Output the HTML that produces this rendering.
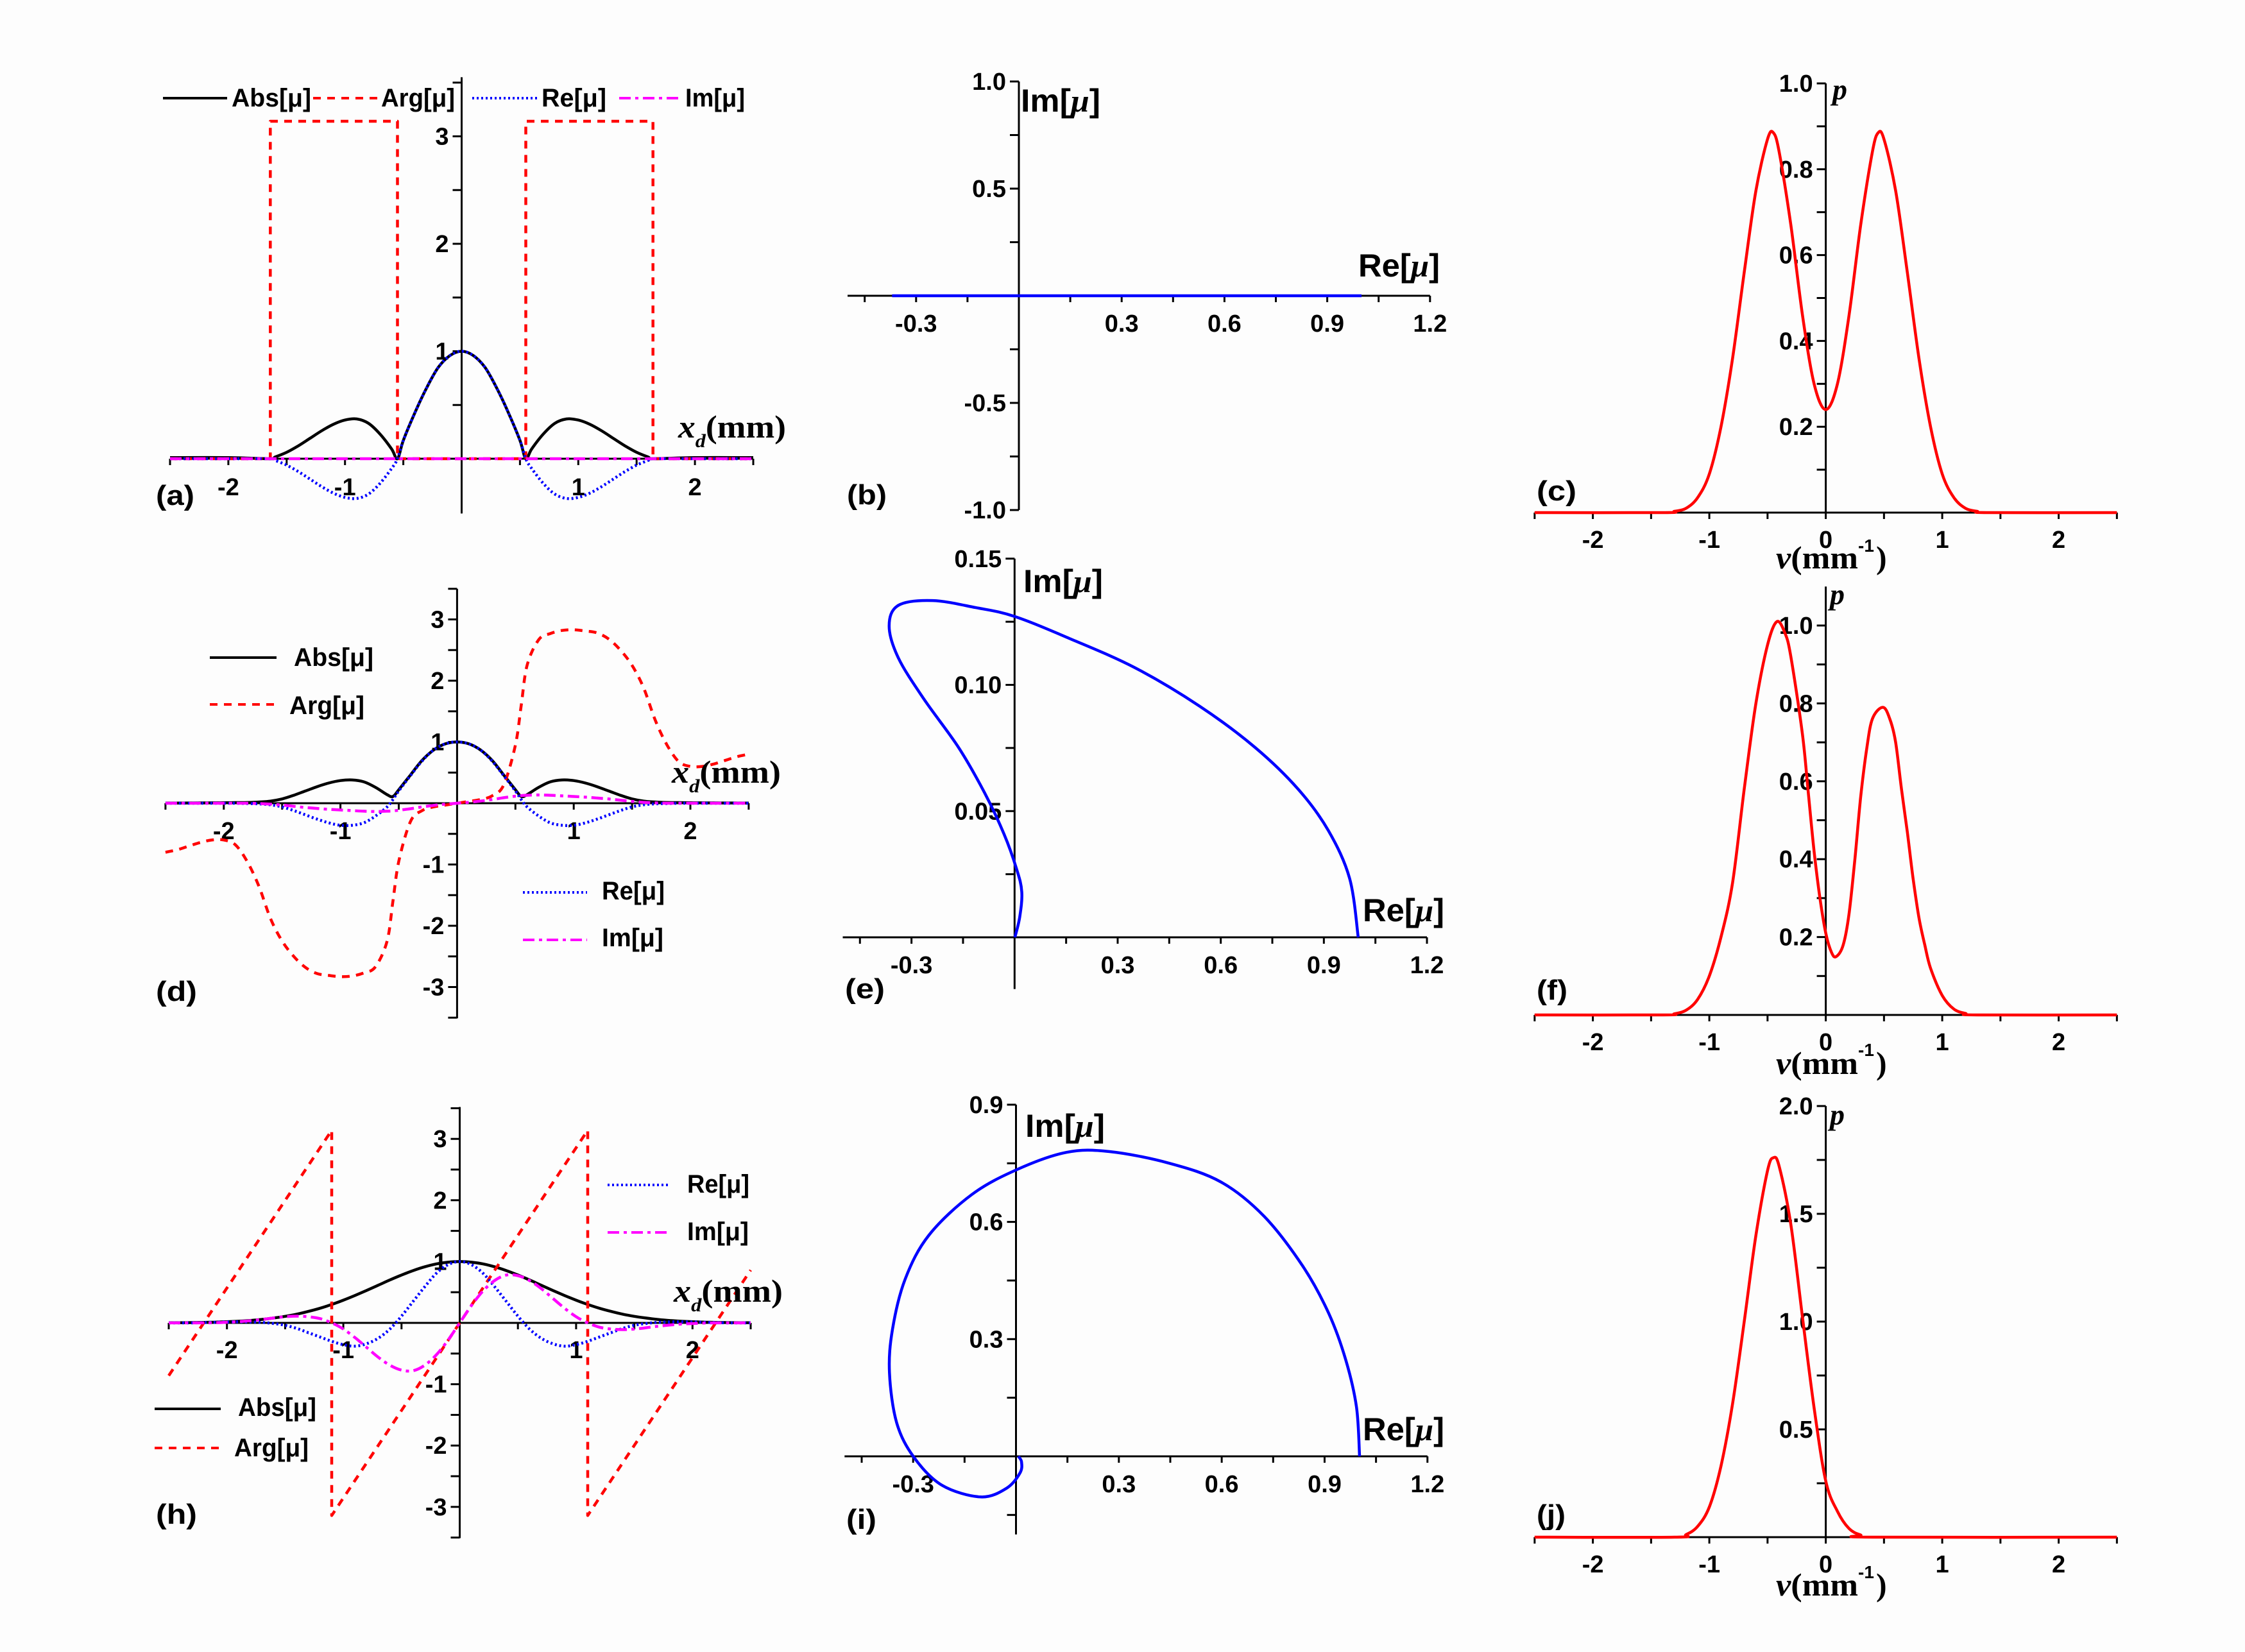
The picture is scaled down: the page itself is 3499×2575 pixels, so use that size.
<!DOCTYPE html>
<html><head><meta charset="utf-8"><title>Coherence panels</title>
<style>
html,body{margin:0;padding:0;background:#fdfdfd;overflow:hidden;}
svg{display:block;}
text{font-family:"Liberation Sans",sans-serif;font-weight:bold;fill:#000;}
.serif{font-family:"Liberation Serif",serif;}
</style></head>
<body>
<svg id="fig" xmlns="http://www.w3.org/2000/svg" width="3499" height="2575" viewBox="0 0 3499 2575">
<rect x="0" y="0" width="3499" height="2575" fill="#fdfdfd"/>
<g id="plots"></g>

<!-- panel letters -->
<text x="243" y="787" font-size="44" textLength="60" lengthAdjust="spacingAndGlyphs">(a)</text>
<text x="1320" y="786" font-size="44" textLength="62" lengthAdjust="spacingAndGlyphs">(b)</text>
<text x="2395" y="780" font-size="44" textLength="62" lengthAdjust="spacingAndGlyphs">(c)</text>
<text x="243" y="1560" font-size="44" textLength="64" lengthAdjust="spacingAndGlyphs">(d)</text>
<text x="1317" y="1556" font-size="44" textLength="62" lengthAdjust="spacingAndGlyphs">(e)</text>
<text x="2395" y="1558" font-size="44" textLength="48" lengthAdjust="spacingAndGlyphs">(f)</text>
<text x="243" y="2375" font-size="44" textLength="64" lengthAdjust="spacingAndGlyphs">(h)</text>
<text x="1319" y="2383" font-size="44" textLength="47" lengthAdjust="spacingAndGlyphs">(i)</text>
<text x="2395" y="2376" font-size="44" textLength="45" lengthAdjust="spacingAndGlyphs">(j)</text>

<!-- x_d axis titles -->
<text class="serif" x="1057" y="682" font-size="50" textLength="168" lengthAdjust="spacingAndGlyphs"><tspan font-style="italic">x</tspan><tspan font-size="30" font-style="italic" dy="15">d</tspan><tspan dy="-15">(mm)</tspan></text>
<text class="serif" x="1047" y="1220" font-size="50" textLength="170" lengthAdjust="spacingAndGlyphs"><tspan font-style="italic">x</tspan><tspan font-size="30" font-style="italic" dy="15">d</tspan><tspan dy="-15">(mm)</tspan></text>
<text class="serif" x="1050" y="2029" font-size="50" textLength="170" lengthAdjust="spacingAndGlyphs"><tspan font-style="italic">x</tspan><tspan font-size="30" font-style="italic" dy="15">d</tspan><tspan dy="-15">(mm)</tspan></text>

<!-- Im / Re titles -->
<text x="1591" y="174" font-size="50" textLength="124" lengthAdjust="spacingAndGlyphs">Im[<tspan class="serif" font-style="italic">μ</tspan>]</text>
<text x="2117" y="431" font-size="50" textLength="127" lengthAdjust="spacingAndGlyphs">Re[<tspan class="serif" font-style="italic">μ</tspan>]</text>
<text x="1595" y="923" font-size="50" textLength="124" lengthAdjust="spacingAndGlyphs">Im[<tspan class="serif" font-style="italic">μ</tspan>]</text>
<text x="2124" y="1436" font-size="50" textLength="127" lengthAdjust="spacingAndGlyphs">Re[<tspan class="serif" font-style="italic">μ</tspan>]</text>
<text x="1598" y="1772" font-size="50" textLength="124" lengthAdjust="spacingAndGlyphs">Im[<tspan class="serif" font-style="italic">μ</tspan>]</text>
<text x="2124" y="2245" font-size="50" textLength="127" lengthAdjust="spacingAndGlyphs">Re[<tspan class="serif" font-style="italic">μ</tspan>]</text>

<!-- p titles -->
<text class="serif" x="2856" y="155" font-size="46" font-style="italic">p</text>
<text class="serif" x="2852" y="942" font-size="46" font-style="italic">p</text>
<text class="serif" x="2852" y="1753" font-size="46" font-style="italic">p</text>

<!-- nu titles -->
<g>
<text class="serif" x="2768" y="886" font-size="50" textLength="128" lengthAdjust="spacingAndGlyphs"><tspan font-style="italic">ν</tspan>(mm</text>
<text x="2896" y="860" font-size="28">-1</text>
<text class="serif" x="2924" y="886" font-size="50">)</text></g>
<g>
<text class="serif" x="2768" y="1674" font-size="50" textLength="128" lengthAdjust="spacingAndGlyphs"><tspan font-style="italic">ν</tspan>(mm</text>
<text x="2896" y="1646" font-size="28">-1</text>
<text class="serif" x="2924" y="1674" font-size="50">)</text></g>
<g>
<text class="serif" x="2768" y="2487" font-size="50" textLength="128" lengthAdjust="spacingAndGlyphs"><tspan font-style="italic">ν</tspan>(mm</text>
<text x="2896" y="2460" font-size="28">-1</text>
<text class="serif" x="2924" y="2487" font-size="50">)</text></g>

<!-- legends -->
<g>
<line x1="254" y1="153" x2="354" y2="153" stroke="#000" stroke-width="4"/>
<text x="361" y="166" font-size="40" textLength="124" lengthAdjust="spacingAndGlyphs">Abs[μ]</text>
<line x1="488" y1="153" x2="592" y2="153" stroke="#f00" stroke-width="4" stroke-dasharray="12 10"/>
<text x="594" y="166" font-size="40" textLength="115" lengthAdjust="spacingAndGlyphs">Arg[μ]</text>
<line x1="736" y1="153" x2="840" y2="153" stroke="#00f" stroke-width="4" stroke-dasharray="3 4"/>
<text x="844" y="166" font-size="40" textLength="101" lengthAdjust="spacingAndGlyphs">Re[μ]</text>
<line x1="965" y1="153" x2="1064" y2="153" stroke="#f0f" stroke-width="4" stroke-dasharray="18 7 5 7"/>
<text x="1068" y="166" font-size="40" textLength="93" lengthAdjust="spacingAndGlyphs">Im[μ]</text>
</g>
<g>
<line x1="327" y1="1025" x2="431" y2="1025" stroke="#000" stroke-width="4"/>
<text x="458" y="1038" font-size="40" textLength="124" lengthAdjust="spacingAndGlyphs">Abs[μ]</text>
<line x1="327" y1="1098" x2="431" y2="1098" stroke="#f00" stroke-width="4" stroke-dasharray="12 10"/>
<text x="451" y="1113" font-size="40" textLength="117" lengthAdjust="spacingAndGlyphs">Arg[μ]</text>
<line x1="815" y1="1391" x2="915" y2="1391" stroke="#00f" stroke-width="4" stroke-dasharray="3 4"/>
<text x="938" y="1402" font-size="40" textLength="98" lengthAdjust="spacingAndGlyphs">Re[μ]</text>
<line x1="815" y1="1465" x2="915" y2="1465" stroke="#f0f" stroke-width="4" stroke-dasharray="18 7 5 7"/>
<text x="938" y="1475" font-size="40" textLength="96" lengthAdjust="spacingAndGlyphs">Im[μ]</text>
</g>
<g>
<line x1="947" y1="1847" x2="1045" y2="1847" stroke="#00f" stroke-width="4" stroke-dasharray="3 4"/>
<text x="1071" y="1859" font-size="40" textLength="97" lengthAdjust="spacingAndGlyphs">Re[μ]</text>
<line x1="947" y1="1921" x2="1045" y2="1921" stroke="#f0f" stroke-width="4" stroke-dasharray="18 7 5 7"/>
<text x="1071" y="1933" font-size="40" textLength="96" lengthAdjust="spacingAndGlyphs">Im[μ]</text>
<line x1="241" y1="2196" x2="344" y2="2196" stroke="#000" stroke-width="4"/>
<text x="371" y="2207" font-size="40" textLength="122" lengthAdjust="spacingAndGlyphs">Abs[μ]</text>
<line x1="241" y1="2257" x2="344" y2="2257" stroke="#f00" stroke-width="4" stroke-dasharray="12 10"/>
<text x="365" y="2270" font-size="40" textLength="116" lengthAdjust="spacingAndGlyphs">Arg[μ]</text>
</g>
</svg>
<script>
// ---------- data: panel (a) ----------
const aX   = [-2.5,-2.0,-1.64,-1.6,-1.5,-1.4,-1.3,-1.2,-1.1,-1.0,-0.9,-0.8,-0.7,-0.6,-0.55,-0.5,-0.4,-0.3,-0.2,-0.1,0,0.1,0.2,0.3,0.4,0.5,0.55,0.6,0.7,0.8,0.9,1.0,1.1,1.2,1.3,1.4,1.5,1.6,1.64,2.0,2.5];
const aAbs = [0.01,0.01,0,0.015,0.06,0.12,0.19,0.26,0.32,0.36,0.37,0.33,0.23,0.09,0,0.17,0.43,0.66,0.85,0.96,1,0.96,0.85,0.66,0.43,0.17,0,0.09,0.23,0.33,0.37,0.36,0.32,0.26,0.19,0.12,0.06,0.015,0,0.01,0.01];
const aRe  = [0,0,0,-0.015,-0.06,-0.12,-0.19,-0.26,-0.32,-0.36,-0.37,-0.33,-0.23,-0.09,0,0.17,0.43,0.66,0.85,0.96,1,0.96,0.85,0.66,0.43,0.17,0,-0.09,-0.23,-0.33,-0.37,-0.36,-0.32,-0.26,-0.19,-0.12,-0.06,-0.015,0,0,0];
const aImX = [-2.5,2.5];
const aIm  = [0,0];
const aArgX = [-2.5,-1.64,-1.64,-0.55,-0.55,0.55,0.55,1.64,1.64,2.5];
const aArg  = [0,0,3.14,3.14,0,0,3.14,3.14,0,0];
// ---------- data: panel (d) ----------
const dX   = [-2.5,-2.4,-2.3,-2.2,-2.1,-2.0,-1.9,-1.8,-1.7,-1.6,-1.5,-1.4,-1.3,-1.2,-1.1,-1.0,-0.9,-0.8,-0.7,-0.6,-0.55,-0.5,-0.4,-0.3,-0.2,-0.1,0,0.1,0.2,0.3,0.4,0.5,0.55,0.6,0.7,0.8,0.9,1.0,1.1,1.2,1.3,1.4,1.5,1.6,1.7,1.8,1.9,2.0,2.1,2.2,2.3,2.4,2.5];
const dAbs = [0.002,0.003,0.004,0.005,0.006,0.008,0.01,0.012,0.02,0.035,0.07,0.13,0.2,0.27,0.33,0.37,0.38,0.35,0.26,0.14,0.11,0.22,0.46,0.7,0.87,0.97,1.0,0.97,0.87,0.7,0.46,0.22,0.11,0.14,0.26,0.35,0.38,0.37,0.33,0.27,0.2,0.13,0.07,0.035,0.02,0.012,0.01,0.008,0.006,0.005,0.004,0.003,0.002];
const dRe  = [0,0,0,0,0,0,0,-0.005,-0.01,-0.025,-0.06,-0.12,-0.19,-0.26,-0.32,-0.36,-0.36,-0.32,-0.21,-0.06,0.06,0.2,0.45,0.69,0.87,0.97,1.0,0.97,0.87,0.69,0.45,0.2,0.06,-0.06,-0.21,-0.32,-0.36,-0.36,-0.32,-0.26,-0.19,-0.12,-0.06,-0.025,-0.01,-0.005,0,0,0,0,0,0,0];
const dIm  = [0,0,0,0,0,0,0,0,-0.005,-0.015,-0.03,-0.05,-0.07,-0.085,-0.1,-0.11,-0.12,-0.13,-0.135,-0.13,-0.125,-0.115,-0.09,-0.06,-0.035,-0.015,0,0.015,0.035,0.06,0.09,0.115,0.125,0.13,0.135,0.13,0.12,0.11,0.1,0.085,0.07,0.05,0.03,0.015,0.005,0,0,0,0,0,0,0,0];
const dArg = [-0.8,-0.76,-0.7,-0.64,-0.6,-0.6,-0.68,-0.95,-1.35,-1.88,-2.25,-2.5,-2.68,-2.78,-2.81,-2.83,-2.82,-2.77,-2.67,-2.25,-1.6,-0.95,-0.3,-0.12,-0.06,-0.03,0,0.03,0.06,0.12,0.3,0.95,1.6,2.25,2.67,2.77,2.82,2.83,2.81,2.78,2.68,2.5,2.25,1.88,1.35,0.95,0.68,0.6,0.6,0.64,0.7,0.76,0.8];
// ---------- data: panel (h) ----------
const hX   = [-2.5,-2.4,-2.3,-2.2,-2.1,-2.0,-1.9,-1.8,-1.7,-1.6,-1.5,-1.4,-1.3,-1.2,-1.1,-1.0,-0.9,-0.8,-0.7,-0.6,-0.5,-0.4,-0.3,-0.2,-0.1,0,0.1,0.2,0.3,0.4,0.5,0.6,0.7,0.8,0.9,1.0,1.1,1.2,1.3,1.4,1.5,1.6,1.7,1.8,1.9,2.0,2.1,2.2,2.3,2.4,2.5];
const hAbs = [0.002,0.003,0.005,0.008,0.012,0.019,0.027,0.04,0.056,0.079,0.107,0.142,0.187,0.239,0.30,0.37,0.447,0.529,0.614,0.70,0.78,0.853,0.914,0.961,0.99,1.0,0.99,0.961,0.914,0.853,0.78,0.70,0.614,0.529,0.447,0.37,0.30,0.239,0.187,0.142,0.107,0.079,0.056,0.04,0.027,0.019,0.012,0.008,0.005,0.003,0.002];
const hRe  = [0,0,0,0.005,0.01,0.015,0.017,0.015,0.008,-0.01,-0.04,-0.09,-0.16,-0.23,-0.3,-0.355,-0.38,-0.34,-0.25,-0.10,0.11,0.35,0.59,0.81,0.95,1.0,0.95,0.81,0.59,0.35,0.11,-0.10,-0.25,-0.34,-0.38,-0.355,-0.3,-0.23,-0.16,-0.09,-0.04,-0.01,0.008,0.015,0.017,0.015,0.01,0.005,0,0,0];
const hIm  = [0,0,0,0,0.003,0.01,0.02,0.036,0.055,0.08,0.10,0.11,0.10,0.07,0,-0.10,-0.24,-0.40,-0.56,-0.69,-0.77,-0.78,-0.69,-0.52,-0.28,0,0.28,0.52,0.69,0.78,0.77,0.69,0.56,0.40,0.24,0.10,0,-0.07,-0.10,-0.11,-0.10,-0.08,-0.055,-0.036,-0.02,-0.01,-0.003,0,0,0,0];
const hArgX = [-2.5,-1.1,-1.1,1.1,1.1,2.5];
const hArg  = [-0.86,3.14,-3.14,3.14,-3.14,0.86];
// ---------- data: phase-plane panels ----------
const bRe = [-0.37,0,0.5,1.0];
const bIm = [0,0,0,0];
const eRe = [1.0,0.975,0.913,0.825,0.700,0.538,0.350,0.163,0,-0.113,-0.238,-0.338,-0.365,-0.338,-0.263,-0.163,-0.088,-0.031,0.006,0.021,0.015,0.001];
const eIm = [0,0.0233,0.0423,0.0587,0.0752,0.0916,0.1068,0.1182,0.1271,0.1306,0.1334,0.1315,0.1233,0.1106,0.0942,0.0752,0.0574,0.041,0.027,0.018,0.008,0];
const iRe = [1.002,0.993,0.962,0.912,0.837,0.724,0.598,0.448,0.273,0.147,0.003,-0.129,-0.254,-0.323,-0.360,-0.369,-0.348,-0.298,-0.216,-0.103,-0.028,0.012,0.016,0.007];
const iIm = [0,0.126,0.246,0.366,0.486,0.614,0.702,0.750,0.780,0.778,0.734,0.670,0.566,0.454,0.326,0.214,0.086,-0.002,-0.074,-0.104,-0.082,-0.042,-0.014,0];
// ---------- data: spectra ----------
const cX = [-2.5,-1.4,-1.3,-1.2,-1.1,-1.0,-0.9,-0.8,-0.7,-0.6,-0.5,-0.45,-0.4,-0.3,-0.2,-0.1,0,0.1,0.2,0.3,0.4,0.45,0.5,0.6,0.7,0.8,0.9,1.0,1.1,1.2,1.3,1.4,2.5];
const cP = [0,0,0.003,0.01,0.035,0.09,0.2,0.36,0.56,0.75,0.87,0.885,0.84,0.67,0.46,0.3,0.24,0.3,0.46,0.67,0.84,0.885,0.87,0.75,0.56,0.36,0.2,0.09,0.035,0.01,0.003,0,0];
const fX = [-2.5,-1.4,-1.3,-1.2,-1.1,-1.0,-0.9,-0.8,-0.7,-0.6,-0.5,-0.42,-0.35,-0.3,-0.2,-0.15,-0.1,-0.05,0,0.05,0.09,0.15,0.2,0.25,0.3,0.35,0.4,0.49,0.55,0.6,0.65,0.7,0.75,0.8,0.85,0.9,1.0,1.1,1.2,1.3,2.5];
const fP = [0,0,0.003,0.012,0.04,0.1,0.2,0.34,0.58,0.8,0.95,1.01,0.98,0.92,0.72,0.57,0.42,0.3,0.21,0.16,0.15,0.18,0.26,0.4,0.56,0.68,0.76,0.79,0.76,0.7,0.58,0.47,0.35,0.25,0.18,0.12,0.05,0.015,0.004,0,0];
const jX = [-2.5,-1.3,-1.2,-1.1,-1.0,-0.9,-0.8,-0.7,-0.6,-0.5,-0.45,-0.4,-0.3,-0.2,-0.1,0,0.1,0.2,0.3,0.4,2.5];
const jP = [0,0,0.012,0.05,0.14,0.33,0.62,1.0,1.4,1.7,1.76,1.72,1.45,1.02,0.6,0.26,0.12,0.04,0.01,0,0];
// ---------- ticks ----------
const xdTicks = [-2.5,-2,-1.5,-1,-0.5,0.5,1,1.5,2,2.5];
const xdLabels = [-2,-1,1,2];
const aYTicks = [0.5,1,1.5,2,2.5,3,3.5];
const aYLabels = [1,2,3];
const dYTicks = [-3.5,-3,-2.5,-2,-1.5,-1,-0.5,0.5,1,1.5,2,2.5,3,3.5];
const dYLabels = [-3,-2,-1,1,2,3];
const reTicks = [-0.45,-0.3,-0.15,0.15,0.3,0.45,0.6,0.75,0.9,1.05,1.2];
const reLabels = ["-0.3","0.3","0.6","0.9","1.2"];
const bYTicks = [-1,-0.75,-0.5,-0.25,0.25,0.5,0.75,1];
const bYLabels = ["-1.0","-0.5","0.5","1.0"];
const eYTicks = [0.025,0.05,0.075,0.1,0.125,0.15];
const eYLabels = ["0.05","0.10","0.15"];
const iYTicks = [-0.15,0.15,0.3,0.45,0.6,0.75,0.9];
const iYLabels = ["0.3","0.6","0.9"];
const nuTicks = [-2.5,-2,-1.5,-1,-0.5,0,0.5,1,1.5,2,2.5];
const nuLabels = ["-2","-1","0","1","2"];
const cYTicks = [0.1,0.2,0.3,0.4,0.5,0.6,0.7,0.8,0.9,1.0];
const cYLabels = ["0.2","0.4","0.6","0.8","1.0"];
const fYTicks = [0.1,0.2,0.3,0.4,0.5,0.6,0.7,0.8,0.9,1.0];
const fYLabels = ["0.2","0.4","0.6","0.8","1.0"];
const jYTicks = [0.25,0.5,0.75,1.0,1.25,1.5,1.75,2.0];
const jYLabels = ["0.5","1.0","1.5","2.0"];

// ---------- rendering ----------
const NS = 'http://www.w3.org/2000/svg';
const root = document.getElementById('plots');
function mk(tag, parent){ const e = document.createElementNS(NS, tag); parent.appendChild(e); return e; }
function scales(g){ return { X: v => g.x0 + v*g.sx, Y: v => g.y0 - v*g.sy }; }
function pathD(xs, ys, s, smooth){
  const p = xs.map((x,i)=>[s.X(x), s.Y(ys[i])]);
  let d = 'M' + p[0][0].toFixed(1) + ',' + p[0][1].toFixed(1);
  for (let i=0;i<p.length-1;i++){
    if (!smooth){ d += 'L' + p[i+1][0].toFixed(1) + ',' + p[i+1][1].toFixed(1); continue; }
    const p0 = p[i-1]||p[i], p1=p[i], p2=p[i+1], p3=p[i+2]||p[i+1];
    const c1=[p1[0]+(p2[0]-p0[0])/6, p1[1]+(p2[1]-p0[1])/6];
    const c2=[p2[0]-(p3[0]-p1[0])/6, p2[1]-(p3[1]-p1[1])/6];
    d += 'C'+c1[0].toFixed(1)+','+c1[1].toFixed(1)+' '+c2[0].toFixed(1)+','+c2[1].toFixed(1)+' '+p2[0].toFixed(1)+','+p2[1].toFixed(1);
  }
  return d;
}
function curve(g, s, xs, ys, color, dash, smooth, name){
  const e = mk('path', g);
  
  
  e.setAttribute('d', pathD(xs, ys, s, smooth));
  e.setAttribute('fill', 'none');
  e.setAttribute('stroke', color);
  e.setAttribute('stroke-width', '4.5');
  e.setAttribute('stroke-linejoin', 'round');
  if (dash) e.setAttribute('stroke-dasharray', dash);
}
function label(g, str, x, y, anchor, name){
  const t = mk('text', g);
  
  
  t.setAttribute('x', x.toFixed(1));
  t.setAttribute('y', y.toFixed(1));
  t.setAttribute('text-anchor', anchor);
  t.setAttribute('font-size', '38');
  t.textContent = str;
}
function axes(id, geo, xt, xl, yt, yl, xoff){
  const s = scales(geo);
  const g = mk('g', root);
  
  
  const xa = mk('line', g);
  
  
  xa.setAttribute('x1', s.X(geo.xmin)); xa.setAttribute('x2', s.X(geo.xmax));
  xa.setAttribute('y1', s.Y(0)); xa.setAttribute('y2', s.Y(0));
  xa.setAttribute('stroke', '#000'); xa.setAttribute('stroke-width', '3');
  const ya = mk('line', g);
  
  
  ya.setAttribute('x1', s.X(0)); ya.setAttribute('x2', s.X(0));
  ya.setAttribute('y1', s.Y(geo.ymin)); ya.setAttribute('y2', s.Y(geo.ymax));
  ya.setAttribute('stroke', '#000'); ya.setAttribute('stroke-width', '3');
  xt.forEach(v => {
    const t = mk('line', g);
    
    
    t.setAttribute('x1', s.X(v)); t.setAttribute('x2', s.X(v));
    t.setAttribute('y1', s.Y(0)); t.setAttribute('y2', s.Y(0)+10);
    t.setAttribute('stroke', '#000'); t.setAttribute('stroke-width', '3');
  });
  xl.forEach(v => label(g, String(v), s.X(parseFloat(v)), s.Y(0)+xoff, 'middle', 'x-tick-label'));
  yt.forEach(v => {
    const t = mk('line', g);
    
    
    t.setAttribute('x1', s.X(0)-14); t.setAttribute('x2', s.X(0));
    t.setAttribute('y1', s.Y(v)); t.setAttribute('y2', s.Y(v));
    t.setAttribute('stroke', '#000'); t.setAttribute('stroke-width', '3');
  });
  yl.forEach(v => label(g, String(v), s.X(0)-20, s.Y(parseFloat(v))+13, 'end', 'y-tick-label'));
  return {g, s};
}
const RED='#ff0000', BLUE='#0000ff', MAG='#ff00ff', BLK='#000';
const DASH='12 10', DOT='3 4', DASHDOT='18 7 5 7';

// (a)
let P = axes('a', {x0:719.5,y0:715,sx:181.8,sy:167.5,xmin:-2.5,xmax:2.5,ymin:-0.51,ymax:3.55}, xdTicks, xdLabels, aYTicks, aYLabels, 57);
curve(P.g,P.s,aX,aAbs,BLK,null,true,'abs-curve-a');
curve(P.g,P.s,aArgX,aArg,RED,DASH,false,'arg-curve-a');
curve(P.g,P.s,aX,aRe,BLUE,DOT,true,'re-curve-a');
curve(P.g,P.s,aImX,aIm,MAG,DASHDOT,false,'im-curve-a');
// (d)
P = axes('d', {x0:712.4,y0:1252,sx:181.8,sy:95.5,xmin:-2.5,xmax:2.5,ymin:-3.51,ymax:3.5}, xdTicks, xdLabels, dYTicks, dYLabels, 56);
curve(P.g,P.s,dX,dAbs,BLK,null,true,'abs-curve-d');
curve(P.g,P.s,dX,dArg,RED,DASH,true,'arg-curve-d');
curve(P.g,P.s,dX,dRe,BLUE,DOT,true,'re-curve-d');
curve(P.g,P.s,dX,dIm,MAG,DASHDOT,true,'im-curve-d');
// (h)
P = axes('h', {x0:716.5,y0:2062,sx:181.4,sy:95.6,xmin:-2.5,xmax:2.5,ymin:-3.51,ymax:3.52}, xdTicks, xdLabels, dYTicks, dYLabels, 55);
curve(P.g,P.s,hX,hAbs,BLK,null,true,'abs-curve-h');
curve(P.g,P.s,hArgX,hArg,RED,DASH,false,'arg-curve-h');
curve(P.g,P.s,hX,hRe,BLUE,DOT,true,'re-curve-h');
curve(P.g,P.s,hX,hIm,MAG,DASHDOT,true,'im-curve-h');
// (b)
P = axes('b', {x0:1588,y0:461,sx:534,sy:334,xmin:-0.5,xmax:1.2,ymin:-1,ymax:1}, reTicks, reLabels, bYTicks, bYLabels, 56);
curve(P.g,P.s,bRe,bIm,BLUE,null,false,'mu-trajectory-b');
// (e)
P = axes('e', {x0:1581.3,y0:1461,sx:535.6,sy:3935,xmin:-0.5,xmax:1.2,ymin:-0.0205,ymax:0.15}, reTicks, reLabels, eYTicks, eYLabels, 56);
curve(P.g,P.s,eRe,eIm,BLUE,null,true,'mu-trajectory-e');
// (i)
P = axes('i', {x0:1583.5,y0:2270,sx:534.4,sy:609,xmin:-0.5,xmax:1.2,ymin:-0.2,ymax:0.9}, reTicks, reLabels, iYTicks, iYLabels, 56);
curve(P.g,P.s,iRe,iIm,BLUE,null,true,'mu-trajectory-i');
// (c)
P = axes('c', {x0:2845.6,y0:799,sx:181.5,sy:669,xmin:-2.5,xmax:2.5,ymin:0,ymax:1.0}, nuTicks, nuLabels, cYTicks, cYLabels, 55);
curve(P.g,P.s,cX,cP,RED,null,true,'spectrum-curve-c');
// (f)
P = axes('f', {x0:2845.6,y0:1582,sx:181.5,sy:607,xmin:-2.5,xmax:2.5,ymin:0,ymax:1.1}, nuTicks, nuLabels, fYTicks, fYLabels, 55);
curve(P.g,P.s,fX,fP,RED,null,true,'spectrum-curve-f');
// (j)
P = axes('j', {x0:2845.6,y0:2396,sx:181.5,sy:336,xmin:-2.5,xmax:2.5,ymin:0,ymax:2.0}, nuTicks, nuLabels, jYTicks, jYLabels, 55);
curve(P.g,P.s,jX,jP,RED,null,true,'spectrum-curve-j');
</script>
</body></html>
